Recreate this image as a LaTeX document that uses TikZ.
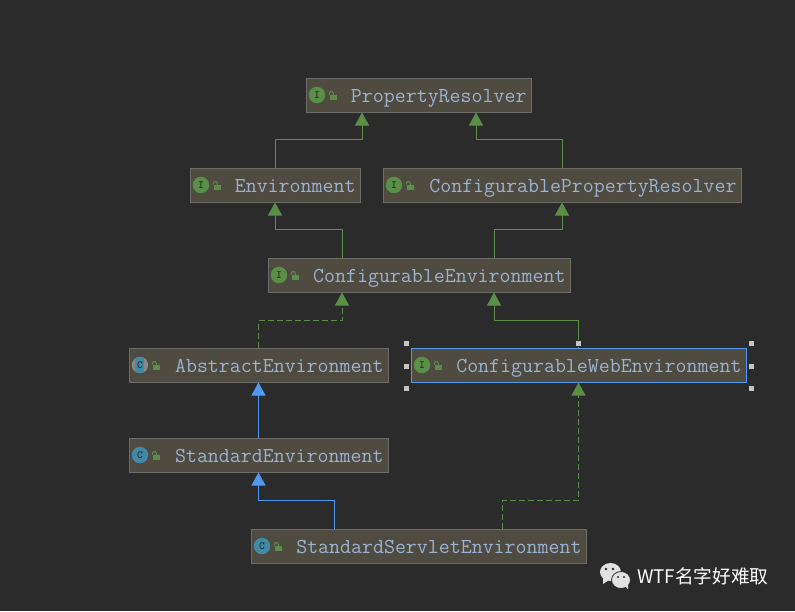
\documentclass[tikz,border=0pt]{standalone}
\usepackage{fontspec}
\newfontfamily\cjkfont{Noto Sans CJK SC}
\usetikzlibrary{
    arrows.meta,
    calc,
    positioning
}
\definecolor{bgdark}{HTML}{2B2B2B}
\definecolor{boxfill}{HTML}{4F4B41}
\definecolor{boxline}{HTML}{6C6C69}
\definecolor{boxtext}{HTML}{9AB3D2}
\definecolor{implgreen}{HTML}{5A8F47}
\definecolor{extblue}{HTML}{4F9AF0}
\definecolor{classteal}{HTML}{3F8BA6}
\definecolor{handlegrey}{HTML}{C4C4C4}
\tikzset{
    umlbox/.style={draw=boxline, line width=1pt, fill=boxfill, text=boxtext, minimum height=34pt,
        inner xsep=0pt, inner ysep=0pt, align=right, text height=14pt, text depth=0pt,
        font=\ttfamily\fontsize{21.3}{23}\selectfont},
    boxw/.style={minimum width=#1, text width=#1-9pt},
    typeicon/.style={circle, inner sep=0pt, minimum size=16.5pt, text=bgdark, text height=6pt, text depth=0pt,
        font=\ttfamily\bfseries\fontsize{11}{11}\selectfont},
    ifaceicon/.style={typeicon, fill=implgreen},
    classicon/.style={typeicon, fill=classteal},
    abstracticon/.style={typeicon, fill=handlegrey!60!bgdark, path picture={
        \fill[classteal] ([xshift=-4.5pt]path picture bounding box.south) rectangle ([xshift=4.5pt]path picture bounding box.north);
    }},
    implarrow/.style={draw=implgreen, line width=1pt, -{Triangle[width=14pt, length=13pt, fill=implgreen]}},
    implsolid/.style={implarrow},
    impldash/.style={implarrow, dash pattern=on 6pt off 3pt},
    extarrow/.style={draw=extblue, line width=1pt, -{Triangle[width=14pt, length=13pt, fill=extblue]}},
    handle/.style={fill=handlegrey, draw=bgdark, line width=0.3pt, minimum size=6pt, inner sep=0pt},
    pics/lockicon/.style={code={
        \fill[implgreen] (-2,0) rectangle (5,5);
        \draw[implgreen, line width=1pt] (1,0) -- (1,-1.5) arc[start angle=0, end angle=-180, radius=2] -- (-3,-0.5);
    }}
}

\begin{document}
\begin{tikzpicture}[x=1pt, y=-1pt]
    \useasboundingbox (0, 0) rectangle (795, 611);
    \fill[bgdark] (0, 0) rectangle (795, 611);

    \node[umlbox, boxw=225pt] (propresolver) at (418.5, 95) {PropertyResolver};
    \node[umlbox, boxw=170pt] (environment) at (275, 185) {Environment};
    \node[umlbox, boxw=358pt] (confresolver) at (562, 185) {ConfigurablePropertyResolver};
    \node[umlbox, boxw=302pt] (confenv) at (419, 275) {ConfigurableEnvironment};
    \node[umlbox, boxw=259pt] (abstractenv) at (258.5, 365) {AbstractEnvironment};
    \node[umlbox, boxw=335pt, draw=extblue] (confwebenv) at (578.5, 365) {ConfigurableWebEnvironment};
    \node[umlbox, boxw=259pt] (standardenv) at (258.5, 455) {StandardEnvironment};
    \node[umlbox, boxw=335pt] (servletenv) at (418.5, 546) {StandardServletEnvironment};

    \foreach \boxname/\iconstyle/\iconletter in {propresolver/ifaceicon/I, environment/ifaceicon/I,
        confresolver/ifaceicon/I, confenv/ifaceicon/I, confwebenv/ifaceicon/I, abstractenv/abstracticon/C,
        standardenv/classicon/C, servletenv/classicon/C} {
        \node[\iconstyle, right=3pt of \boxname.west] (\boxname-icon) {\iconletter};
        \pic at ([xshift=7pt]\boxname-icon.east) {lockicon};
    }

    \draw[implsolid] (environment.north) -- ++(0, -28) -| ([xshift=-56.5pt]propresolver.south);
    \draw[implsolid] (confresolver.north) -- ++(0, -28) -| ([xshift=57.5pt]propresolver.south);
    \draw[implsolid] ([xshift=-77pt]confenv.north) -- ++(0, -28) -| (environment.south);
    \draw[implsolid] ([xshift=75pt]confenv.north) -- ++(0, -28) -| (confresolver.south);
    \draw[impldash] (abstractenv.north) -- ++(0, -27) -| ([xshift=-77pt]confenv.south);
    \draw[implsolid] (confwebenv.north) -- ++(0, -27) -| ([xshift=75pt]confenv.south);
    \draw[extarrow] (standardenv.north) -- (abstractenv.south);
    \draw[extarrow] ([xshift=-84.5pt]servletenv.north) -- ++(0, -28) -| (standardenv.south);
    \draw[impldash] ([xshift=83.5pt]servletenv.north) -- ++(0, -28) -| (confwebenv.south);

    % selection handles
    \foreach \handlepos/\handleshift in {north west/{-4pt,4pt}, north/{0pt,4pt}, north east/{5pt,4pt},
        west/{-4pt,-1pt}, east/{5pt,-1pt}, south west/{-4pt,-6pt}, south east/{5pt,-6pt}} {
        \node[handle] (handle-\handlepos) at ($(confwebenv.\handlepos)+(\handleshift)$) {};
    }

    % wechat mark
    \fill[handlegrey!50!white] (610.5, 572) ellipse[x radius=10.5, y radius=9];
    \fill[handlegrey!50!white] (603, 578) -- (603, 584) -- (609, 580) -- cycle;
    \fill[handlegrey!50!white, draw=bgdark, line width=0.8pt] (621, 580) ellipse[x radius=9.5, y radius=8.5];
    \fill[handlegrey!50!white] (625, 586) -- (628, 589) -- (628, 584) -- cycle;
    \fill[bgdark] (606, 569) circle[radius=1.4] (613, 569) circle[radius=1.4]
        (618, 577) circle[radius=1.2] (624, 577) circle[radius=1.2];
    \node[anchor=west, inner sep=0pt, text=white, font=\fontsize{18.7}{20}\selectfont\cjkfont] (wechatname) at (637, 576) {WTF名字好难取};
\end{tikzpicture}
\end{document}
